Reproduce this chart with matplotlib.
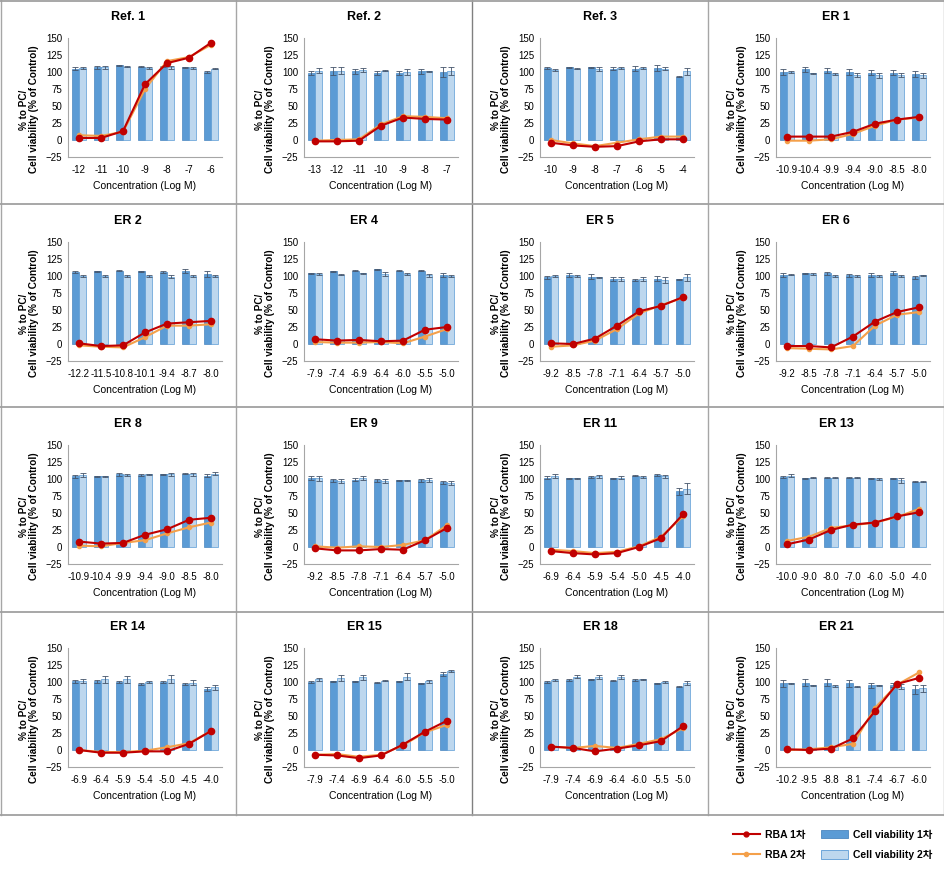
import numpy as np
import matplotlib
matplotlib.use('Agg')
import matplotlib.pyplot as plt
from matplotlib.lines import Line2D
from matplotlib.patches import Patch

plt.rcParams['font.family'] = ['Liberation Sans', 'Noto Sans CJK KR', 'DejaVu Sans']

# panel titles and x tick labels (log M)
titles = ['Ref. 1', 'Ref. 2', 'Ref. 3', 'ER 1',
          'ER 2', 'ER 4', 'ER 5', 'ER 6',
          'ER 8', 'ER 9', 'ER 11', 'ER 13',
          'ER 14', 'ER 15', 'ER 18', 'ER 21']

conc = [['-12', '-11', '-10', '-9', '-8', '-7', '-6'],
        ['-13', '-12', '-11', '-10', '-9', '-8', '-7'],
        ['-10', '-9', '-8', '-7', '-6', '-5', '-4'],
        ['-10.9', '-10.4', '-9.9', '-9.4', '-9.0', '-8.5', '-8.0'],
        ['-12.2', '-11.5', '-10.8', '-10.1', '-9.4', '-8.7', '-8.0'],
        ['-7.9', '-7.4', '-6.9', '-6.4', '-6.0', '-5.5', '-5.0'],
        ['-9.2', '-8.5', '-7.8', '-7.1', '-6.4', '-5.7', '-5.0'],
        ['-9.2', '-8.5', '-7.8', '-7.1', '-6.4', '-5.7', '-5.0'],
        ['-10.9', '-10.4', '-9.9', '-9.4', '-9.0', '-8.5', '-8.0'],
        ['-9.2', '-8.5', '-7.8', '-7.1', '-6.4', '-5.7', '-5.0'],
        ['-6.9', '-6.4', '-5.9', '-5.4', '-5.0', '-4.5', '-4.0'],
        ['-10.0', '-9.0', '-8.0', '-7.0', '-6.0', '-5.0', '-4.0'],
        ['-6.9', '-6.4', '-5.9', '-5.4', '-5.0', '-4.5', '-4.0'],
        ['-7.9', '-7.4', '-6.9', '-6.4', '-6.0', '-5.5', '-5.0'],
        ['-7.9', '-7.4', '-6.9', '-6.4', '-6.0', '-5.5', '-5.0'],
        ['-10.2', '-9.5', '-8.8', '-8.1', '-7.4', '-6.7', '-6.0']]

# cell viability 1차 / 2차 (% of control)
cv1 = [[105, 107, 110, 108, 108, 107, 100],
       [98, 102, 101, 99, 98, 101, 100],
       [106, 107, 107, 105, 105, 106, 93],
       [100, 104, 102, 100, 99, 99, 97],
       [106, 107, 108, 107, 106, 107, 103],
       [104, 107, 108, 110, 108, 108, 101],
       [98, 101, 99, 96, 94, 96, 95],
       [101, 104, 104, 101, 102, 104, 98],
       [104, 104, 107, 106, 107, 108, 105],
       [101, 98, 99, 98, 98, 98, 95],
       [102, 101, 103, 101, 105, 106, 82],
       [103, 101, 102, 102, 101, 101, 96],
       [101, 101, 100, 97, 100, 97, 90],
       [100, 101, 101, 99, 101, 98, 112],
       [100, 103, 104, 102, 103, 98, 93],
       [98, 99, 99, 98, 95, 96, 89]]

cv2 = [[106, 107, 108, 106, 107, 106, 105],
       [102, 102, 103, 102, 100, 101, 102],
       [103, 105, 105, 106, 106, 105, 101],
       [100, 98, 97, 96, 95, 95, 95],
       [100, 100, 100, 100, 99, 100, 100],
       [103, 102, 104, 103, 103, 101, 100],
       [100, 100, 98, 96, 95, 94, 98],
       [102, 103, 100, 100, 100, 100, 101],
       [106, 104, 106, 107, 107, 107, 108],
       [101, 97, 101, 97, 98, 99, 94],
       [104, 101, 104, 102, 103, 104, 86],
       [105, 102, 102, 102, 100, 98, 96],
       [101, 104, 104, 100, 104, 99, 92],
       [104, 106, 107, 102, 108, 101, 116],
       [103, 108, 107, 108, 104, 100, 98],
       [98, 95, 94, 93, 95, 93, 91]]

cv1_err = [[2, 2, 1, 1, 1, 1, 1], [3, 6, 4, 3, 3, 4, 7], [1, 1, 1, 2, 4, 4, 1],
           [4, 4, 4, 4, 4, 4, 5], [2, 1, 1, 1, 2, 3, 4], [1, 1, 1, 1, 1, 1, 3],
           [2, 3, 4, 3, 2, 4, 1], [3, 1, 2, 2, 3, 3, 2], [2, 1, 2, 1, 1, 1, 2],
           [3, 2, 2, 2, 1, 2, 2], [2, 1, 1, 1, 1, 2, 5], [1, 1, 1, 1, 1, 1, 1],
           [2, 2, 1, 1, 1, 1, 3], [1, 1, 1, 1, 1, 1, 3], [1, 1, 1, 1, 1, 1, 1],
           [5, 5, 5, 5, 4, 3, 6]]

cv2_err = [[2, 2, 1, 1, 2, 2, 1], [4, 5, 3, 1, 4, 1, 6], [2, 1, 3, 2, 2, 2, 5],
           [1, 1, 1, 3, 4, 3, 4], [1, 1, 2, 2, 2, 1, 2], [2, 1, 1, 3, 2, 2, 1],
           [1, 1, 1, 3, 3, 4, 5], [1, 1, 2, 1, 2, 2, 1], [3, 1, 1, 1, 2, 2, 2],
           [4, 3, 3, 3, 1, 3, 3], [3, 1, 2, 2, 2, 2, 8], [2, 1, 1, 1, 2, 4, 1],
           [3, 5, 5, 2, 6, 4, 4], [2, 5, 4, 1, 5, 2, 1], [1, 2, 3, 3, 1, 1, 3],
           [1, 1, 1, 1, 1, 4, 5]]

# RBA 1차 / 2차 (% to PC)
rba1 = [[3, 3, 13, 82, 113, 121, 143],
        [-2, -2, -1, 21, 33, 31, 30],
        [-4, -8, -10, -9, -2, 1, 1],
        [5, 5, 5, 12, 24, 30, 34],
        [1, -3, -2, 17, 30, 32, 34],
        [7, 5, 6, 4, 5, 21, 25],
        [1, 0, 8, 27, 48, 56, 69],
        [-3, -3, -5, 11, 33, 47, 54],
        [8, 5, 6, 18, 26, 40, 43],
        [-2, -5, -5, -3, -4, 10, 28],
        [-6, -9, -11, -9, 0, 13, 48],
        [4, 11, 25, 33, 36, 45, 51],
        [0, -4, -4, -2, -2, 9, 28],
        [-7, -8, -12, -8, 8, 27, 43],
        [5, 3, -2, 2, 7, 13, 35],
        [1, 0, 2, 17, 57, 97, 106]]

rba2 = [[7, 6, 12, 75, 116, 122, 140],
        [-1, 0, 1, 23, 35, 34, 32],
        [0, -5, -9, -4, 1, 5, 5],
        [-1, -1, 1, 9, 21, 30, 33],
        [-2, -4, -5, 10, 27, 27, 29],
        [3, 2, 2, 3, 1, 11, 22],
        [-4, -2, 5, 22, 45, 57, 68],
        [-6, -7, -8, -3, 27, 43, 47],
        [2, 1, 6, 10, 20, 29, 36],
        [1, -1, 1, 0, 3, 10, 32],
        [-4, -6, -9, -7, 1, 15, 45],
        [9, 15, 28, 32, 36, 44, 56],
        [0, -3, -3, -1, 4, 10, 28],
        [-7, -6, -10, -7, 7, 26, 37],
        [5, 3, 6, 3, 9, 16, 32],
        [0, 1, 4, 9, 62, 96, 114]]

dark_blue = '#5b9bd5'
light_blue = '#bdd7ee'
red = '#c00000'
orange = '#f4a04a'

W, H = 945, 869
fig = plt.figure(figsize=(W / 100, H / 100), dpi=100)

col_x = [0, 236, 472, 708]
row_y = [0, 204, 407, 610]
bw = 0.32

for i in range(16):
    r, c = divmod(i, 4)
    x0, y0 = col_x[c], row_y[r]
    ax = fig.add_axes([(x0 + 68) / W, 1 - (y0 + 157) / H, 154 / W, 119 / H])
    x = np.arange(7)
    ax.bar(x - bw / 2, cv1[i], bw, color=dark_blue, edgecolor='#4a86c0', linewidth=0.5,
           yerr=cv1_err[i], error_kw=dict(ecolor='#44546a', elinewidth=0.6, capsize=2, capthick=0.6))
    ax.bar(x + bw / 2, cv2[i], bw, color=light_blue, edgecolor='#5b9bd5', linewidth=0.5,
           yerr=cv2_err[i], error_kw=dict(ecolor='#44546a', elinewidth=0.6, capsize=2, capthick=0.6))
    ax.plot(x, rba2[i], color=orange, lw=1.5, marker='o', ms=3, zorder=4)
    ax.plot(x, rba1[i], color=red, lw=1.5, marker='o', ms=4.5, zorder=5)
    ax.set_xlim(-0.5, 6.5)
    ax.set_ylim(-25, 150)
    ax.set_yticks(np.arange(-25, 151, 25))
    ax.set_xticks(x)
    ax.set_xticklabels(conc[i])
    ax.tick_params(axis='both', length=0, labelsize=7)
    ax.tick_params(axis='y', pad=4)
    ax.tick_params(axis='x', pad=6)
    for s in ['top', 'right']:
        ax.spines[s].set_visible(False)
    for s in ['left', 'bottom']:
        ax.spines[s].set_color('#a6a6a6')
        ax.spines[s].set_linewidth(0.8)
    ax.set_xlabel('Concentration (Log M)', fontsize=7.5, labelpad=4)
    ax.text(-0.255, 0.4, '% to PC/\nCell viability (% of Control)', transform=ax.transAxes,
            rotation=90, ha='center', va='center', multialignment='center',
            fontsize=7.2, fontweight='bold', linespacing=1.05)
    fig.text((x0 + 128) / W, 1 - (y0 + 17) / H, titles[i], ha='center', va='center',
             fontsize=9, fontweight='bold')

# panel borders
for xv, colr in [(1, '#a6a6a6'), (236, '#a6a6a6'), (472, '#808080'), (708, '#a6a6a6'), (944, '#a6a6a6')]:
    fig.add_artist(Line2D([xv / W, xv / W], [1, 1 - 815 / H], color=colr, lw=1))
for yv in [1, 204, 407, 612, 815]:
    fig.add_artist(Line2D([0, 1], [1 - yv / H, 1 - yv / H], color='#a0a0a0', lw=1.3))

handles = [Line2D([], [], color=red, lw=1.5, marker='o', ms=3.5),
           Line2D([], [], color=orange, lw=1.5, marker='o', ms=3),
           Patch(facecolor=dark_blue, edgecolor='#4a86c0', linewidth=0.6),
           Patch(facecolor=light_blue, edgecolor='#5b9bd5', linewidth=0.6)]
labels = ['RBA 1차', 'RBA 2차', 'Cell viability 1차', 'Cell viability 2차']
fig.legend(handles, labels, ncol=2, loc='upper right', bbox_to_anchor=(942 / W, 1 - 820 / H),
           frameon=False, prop={'size': 7.5, 'weight': 'bold'}, handlelength=2.6,
           handleheight=0.9, labelspacing=1.0, columnspacing=1.5, handletextpad=0.5)

fig.savefig('out.png', dpi=100)
